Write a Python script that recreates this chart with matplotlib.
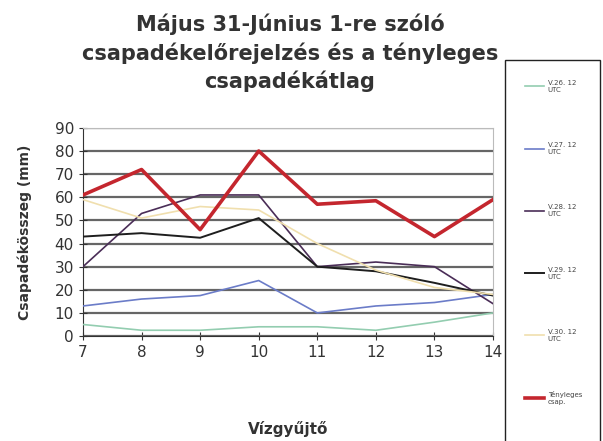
import matplotlib.pyplot as plt
from matplotlib.patches import Rectangle

# vizgyujtok (x tengely)
basins = [7, 8, 9, 10, 11, 12, 13, 14]

# elorejelzesek es tenyleges csapadek (mm)
v26 = [5, 2.5, 2.5, 4, 4, 2.5, 6, 10]
v27 = [13, 16, 17.5, 24, 10, 13, 14.5, 18]
v28 = [30, 53, 61, 61, 30, 32, 30, 14]
v29 = [43, 44.5, 42.5, 51, 30, 28, 23, 17.5]
v30 = [59, 51, 56, 54.5, 40, 28.5, 21, 18]
actual = [61, 72, 46, 80, 57, 58.5, 43, 59]

labels = ["V.26. 12\nUTC", "V.27. 12\nUTC", "V.28. 12\nUTC",
          "V.29. 12\nUTC", "V.30. 12\nUTC", "Tényleges\ncsap."]
colors = ["#93cdb0", "#6b7cc8", "#4a2d57", "#1e1e1e", "#f0dfae", "#c4262e"]
widths = [1.2, 1.2, 1.2, 1.4, 1.2, 2.6]

fig = plt.figure(figsize=(6.03, 4.41), dpi=100)
ax = fig.add_axes([0.1376, 0.238, 0.68, 0.472])

series = [v26, v27, v28, v29, v30, actual]
for s, lab, c, w in zip(series, labels, colors, widths):
    ax.plot(basins, s, color=c, lw=w, label=lab, zorder=3)

ax.set_xlim(7, 14)
ax.set_ylim(0, 90)
ax.set_yticks(range(0, 91, 10))
ax.set_xticks(basins)
ax.grid(axis="y", color="#666666", lw=1.6, zorder=1)
ax.tick_params(axis="both", labelsize=11, colors="#333333", direction="inout", length=6)
for sp in ["top", "right"]:
    ax.spines[sp].set_color("#bbbbbb")
ax.spines["left"].set_color("#333333")
ax.spines["bottom"].set_color("#333333")

ax.set_xlabel("Vízgyűjtő", fontsize=11, fontweight="bold", color="#333333", labelpad=44)
ax.set_ylabel("Csapadékösszeg (mm)", fontsize=10, fontweight="bold", color="#333333", labelpad=16)

fig.text(0.481, 0.97, "Május 31-Június 1-re szóló\ncsapadékelőrejelzés és a tényleges\ncsapadékátlag",
         ha="center", va="top", fontsize=15, fontweight="bold", color="#333333", linespacing=1.42)

# legend doboz: alul kilog a kepbol
fig.patches.append(Rectangle((0.837, -0.1), 0.158, 0.965, transform=fig.transFigure,
                             fill=False, ec="#222222", lw=1.0))
leg = fig.legend(loc="upper left", bbox_to_anchor=(0.837, 0.865), fontsize=5,
                 labelspacing=7.1, handlelength=2.8, handletextpad=0.5, borderpad=2.9,
                 borderaxespad=0, frameon=False)
for t in leg.get_texts():
    t.set_color("#444444")

fig.savefig("out.png", dpi=100)
